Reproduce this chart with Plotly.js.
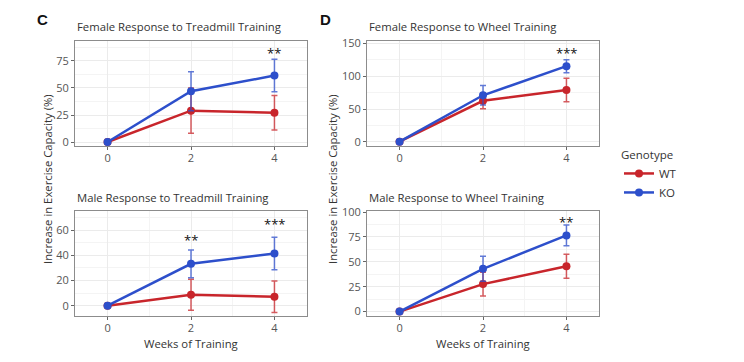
<!DOCTYPE html>
<html>
<head>
<meta charset="utf-8">
<script src="https://cdn.plot.ly/plotly-3.0.1.min.js"></script>
<style>html,body{margin:0;padding:0;background:#fff;}#chart{width:744px;height:362px;}</style>
</head>
<body>
<div id="chart"></div>
<script>
// Data
const weeks = [0, 2, 4];
const genotypes = ["WT", "KO"];
const panelTitles = [
  "Female Response to Treadmill Training",
  "Female Response to Wheel Training",
  "Male Response to Treadmill Training",
  "Male Response to Wheel Training"
];
// mean values per panel: [WT, KO]
const femTreadWT = [0, 29, 27];
const femTreadKO = [0, 47, 61.5];
const femTreadWTerr = [0, 21, 16];
const femTreadKOerr = [0, 18, 15];

const femWheelWT = [0, 62.5, 79];
const femWheelKO = [0, 71, 115.5];
const femWheelWTerr = [0, 12, 18];
const femWheelKOerr = [0, 15, 10];

const maleTreadWT = [0, 8.7, 7.1];
const maleTreadKO = [0, 33.3, 41.5];
const maleTreadWTerr = [0, 12.3, 12.5];
const maleTreadKOerr = [0, 11, 13];

const maleWheelWT = [0, 27.6, 45.5];
const maleWheelKO = [0, 43, 76.5];
const maleWheelWTerr = [0, 12, 12];
const maleWheelKOerr = [0, 12.5, 10.5];

// significance marks: [week, y, label]
const femTreadSig = [[4, 82, "**"]];
const femWheelSig = [[4, 135, "***"]];
const maleTreadSig = [[2, 52, "**"], [4, 65, "***"]];
const maleWheelSig = [[4, 90, "**"]];

const yTicks = [
  [0, 25, 50, 75],
  [0, 50, 100, 150],
  [0, 20, 40, 60],
  [0, 25, 50, 75, 100]
];
const yRanges = [[-3.7, 93.5], [-6.6, 154], [-8.2, 75.3], [-4.4, 101]];

const colors = {WT: "#C8252B", KO: "#2D4FCB"};
const errColors = {WT: "rgba(200,37,43,0.75)", KO: "rgba(45,79,203,0.75)"};

const W = 744, H = 362;
const colX = [[75, 307], [367, 599]];
const rowY = [[41, 146], [211, 316]];
const yTitleX = [47, 332];

const panels = [
  {wt: femTreadWT, ko: femTreadKO, wte: femTreadWTerr, koe: femTreadKOerr, sig: femTreadSig, col: 0, row: 0},
  {wt: femWheelWT, ko: femWheelKO, wte: femWheelWTerr, koe: femWheelKOerr, sig: femWheelSig, col: 1, row: 0},
  {wt: maleTreadWT, ko: maleTreadKO, wte: maleTreadWTerr, koe: maleTreadKOerr, sig: maleTreadSig, col: 0, row: 1},
  {wt: maleWheelWT, ko: maleWheelKO, wte: maleWheelWTerr, koe: maleWheelKOerr, sig: maleWheelSig, col: 1, row: 1}
];

const FONT = "Open Sans, Noto Sans, sans-serif";
const data = [];
const layout = {
  width: W, height: H,
  margin: {l: 0, r: 0, t: 0, b: 0},
  paper_bgcolor: "#fff", plot_bgcolor: "#fff",
  font: {family: FONT, color: "#333"},
  showlegend: true,
  legend: {
    x: 619 / W, y: 1 - 144 / H, xanchor: "left", yanchor: "top",
    title: {text: "Genotype", font: {size: 11.5, color: "#333"}},
    font: {size: 11.5, color: "#333"},
    tracegroupgap: 0, itemwidth: 30
  },
  annotations: [],
  shapes: []
};

panels.forEach((p, i) => {
  const n = i + 1;
  const xa = "x" + (n === 1 ? "" : n), ya = "y" + (n === 1 ? "" : n);
  const series = [["WT", p.wt, p.wte], ["KO", p.ko, p.koe]];
  series.forEach(([g, vals, errs]) => {
    data.push({
      x: weeks, y: vals, type: "scatter", mode: "lines+markers",
      name: g, legendgroup: g, showlegend: i === 0,
      xaxis: xa, yaxis: ya,
      line: {color: colors[g], width: 2.5},
      marker: {color: colors[g], size: 8},
      error_y: {type: "data", array: errs, visible: true, color: errColors[g], thickness: 1.5, width: 3}
    });
  });
  const xd = colX[p.col], yd = rowY[p.row];
  const axCommon = {
    showline: true, mirror: true, linecolor: "#8c8c8c", linewidth: 1,
    ticks: "outside", ticklen: 3, tickcolor: "#666", tickwidth: 1,
    tickfont: {size: 11, color: "#555", family: FONT},
    showgrid: true, gridcolor: "#ebebeb", gridwidth: 1, zeroline: false,
    fixedrange: true
  };
  layout["xaxis" + (n === 1 ? "" : n)] = Object.assign({}, axCommon, {
    domain: [xd[0] / W, xd[1] / W], anchor: ya,
    range: [-0.78, 4.78], tickvals: weeks, ticktext: weeks.map(String),
    ticklabelstandoff: -1,
    minor: {tickvals: [1, 3], showgrid: true, gridcolor: "#f4f4f4", ticks: ""}
  });
  const yt = yTicks[i];
  const minorY = [];
  for (let k = 0; k < yt.length; k++) {
    const step = yt[1] - yt[0];
    minorY.push(yt[k] - step / 2);
    if (k === yt.length - 1) minorY.push(yt[k] + step / 2);
  }
  layout["yaxis" + (n === 1 ? "" : n)] = Object.assign({}, axCommon, {
    domain: [1 - yd[1] / H, 1 - yd[0] / H], anchor: xa,
    range: yRanges[i], tickvals: yt, ticktext: yt.map(String),
    minor: {tickvals: minorY, showgrid: true, gridcolor: "#f4f4f4", ticks: ""}
  });
  // title
  layout.annotations.push({
    text: panelTitles[i], xref: "paper", yref: "paper",
    x: xd[0] / W, y: 1 - (yd[0] - 14) / H, xanchor: "left", yanchor: "middle",
    showarrow: false, font: {size: 11.3, color: "#333", family: FONT}
  });
  p.sig.forEach(([wx, wy, lab]) => {
    layout.annotations.push({
      text: lab, x: wx, y: wy, xref: xa, yref: ya, showarrow: false,
      font: {size: 13, color: "#111", family: FONT}
    });
  });
});

// axis titles and panel letters
[0, 1].forEach(c => {
  const xd = colX[c];
  layout.annotations.push({
    text: "Weeks of Training", xref: "paper", yref: "paper",
    x: (xd[0] + xd[1]) / 2 / W, y: 1 - 343 / H, xanchor: "center", yanchor: "middle",
    showarrow: false, font: {size: 11.3, color: "#333", family: FONT}
  });
  layout.annotations.push({
    text: "Increase in Exercise Capacity (%)", xref: "paper", yref: "paper",
    x: yTitleX[c] / W, y: 1 - 179 / H, xanchor: "center", yanchor: "middle",
    textangle: -90, showarrow: false, font: {size: 11.3, color: "#333", family: FONT}
  });
});
layout.annotations.push({text: "<b>C</b>", xref: "paper", yref: "paper", x: 42 / W, y: 1 - 19 / H,
  xanchor: "center", yanchor: "middle", showarrow: false, font: {size: 15, color: "#111", family: "Liberation Sans, Arial, sans-serif"}});
layout.annotations.push({text: "<b>D</b>", xref: "paper", yref: "paper", x: 325 / W, y: 1 - 20 / H,
  xanchor: "center", yanchor: "middle", showarrow: false, font: {size: 15, color: "#111", family: "Liberation Sans, Arial, sans-serif"}});

Plotly.newPlot("chart", data, layout, {displayModeBar: false, staticPlot: true});
</script>
</body>
</html>
